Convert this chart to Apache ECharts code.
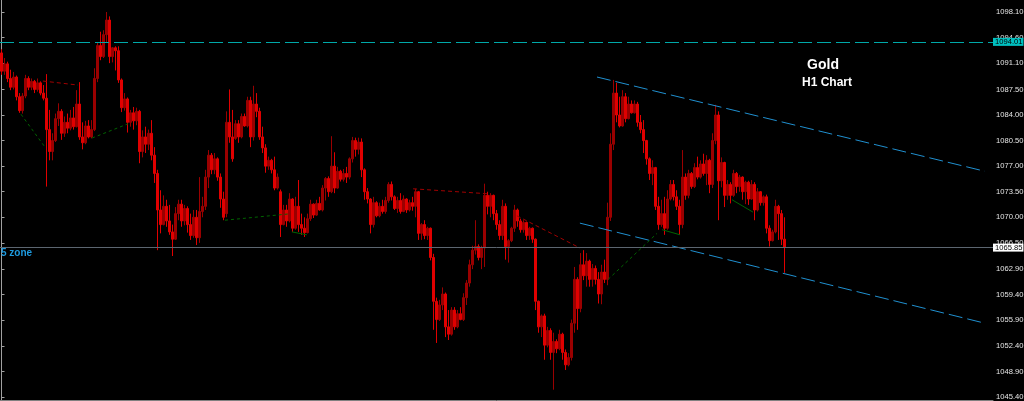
<!DOCTYPE html>
<html><head><meta charset="utf-8">
<script src="https://cdn.jsdelivr.net/npm/echarts@6/dist/echarts.min.js"></script>
<style>html,body{margin:0;padding:0;background:#000;}#c{width:1024px;height:401px;}</style>
</head><body><div id="c"></div>
<script>
// ---- data ----
const slotCount = 331; // hourly slots including empty right shift area
const categories = Array.from({length: slotCount}, (_, i) => 'H' + (i + 1));
// [open, close, low, high]
const candles = [
[1092.5,1090.0,1089.5,1093.0],[1090.0,1091.0,1089.5,1091.8],[1091.0,1089.0,1088.5,1091.3],[1089.0,1087.8,1087.4,1090.2],
[1087.8,1089.2,1087.5,1089.9],[1089.2,1086.5,1086.0,1089.4],[1086.5,1084.6,1084.3,1087.0],[1084.6,1086.6,1084.2,1087.0],
[1086.6,1089.0,1086.3,1089.5],[1089.0,1087.8,1087.4,1089.3],[1087.8,1088.6,1087.4,1089.0],[1088.6,1087.5,1087.0,1088.8],
[1087.5,1088.4,1087.2,1089.0],[1088.4,1087.0,1086.7,1088.6],[1087.0,1086.3,1086.0,1088.1],[1086.3,1082.0,1074.2,1089.6],
[1082.0,1079.0,1077.8,1084.7],[1079.0,1080.5,1077.8,1081.5],[1080.5,1083.5,1080.3,1084.2],[1083.5,1084.5,1082.5,1085.6],
[1084.5,1081.5,1080.6,1084.8],[1081.5,1083.0,1081.0,1083.8],[1083.0,1082.2,1081.5,1084.2],[1082.2,1083.6,1081.9,1084.7],
[1083.6,1082.4,1082.0,1085.1],[1082.4,1085.5,1082.3,1087.4],[1085.5,1081.0,1080.6,1088.5],[1081.0,1080.2,1079.3,1083.0],
[1080.2,1082.5,1080.0,1083.2],[1082.5,1081.0,1080.8,1083.3],[1081.0,1082.0,1080.8,1083.3],[1082.0,1089.0,1081.8,1090.4],
[1089.0,1093.5,1088.5,1094.0],[1093.5,1092.0,1091.5,1095.4],[1092.0,1095.0,1091.8,1095.6],[1095.0,1097.0,1094.0,1098.1],
[1097.0,1092.0,1091.1,1097.5],[1092.0,1093.2,1091.2,1093.3],[1093.2,1092.8,1090.1,1093.4],[1092.8,1088.8,1088.4,1093.4],
[1088.8,1085.0,1084.4,1089.0],[1085.0,1086.2,1084.6,1087.0],[1086.2,1083.0,1081.6,1086.4],[1083.0,1084.3,1082.4,1084.7],
[1084.3,1083.2,1082.0,1085.1],[1083.2,1084.5,1082.6,1085.0],[1084.5,1079.0,1077.4,1084.7],[1079.0,1081.0,1078.2,1081.9],
[1081.0,1080.0,1078.8,1082.4],[1080.0,1081.5,1079.2,1082.0],[1081.5,1078.5,1077.8,1083.3],[1078.5,1076.0,1074.7,1079.6],
[1076.0,1071.0,1065.5,1076.5],[1071.0,1069.0,1067.8,1073.7],[1069.0,1071.5,1068.9,1073.0],[1071.5,1069.5,1068.7,1072.4],
[1069.5,1068.0,1067.6,1071.7],[1068.0,1067.0,1064.7,1069.0],[1067.0,1070.5,1066.9,1071.4],[1070.5,1071.8,1069.6,1072.4],
[1071.8,1069.5,1068.7,1072.4],[1069.5,1071.2,1068.9,1071.7],[1071.2,1069.0,1067.9,1071.5],[1069.0,1067.5,1066.9,1070.5],
[1067.5,1070.0,1067.2,1071.0],[1070.0,1067.2,1066.2,1071.0],[1067.2,1070.8,1066.5,1075.5],[1070.8,1071.5,1070.0,1072.8],
[1071.5,1075.5,1071.0,1076.5],[1075.5,1078.5,1074.0,1079.2],[1078.5,1076.5,1075.9,1078.8],[1076.5,1078.0,1075.9,1078.8],
[1078.0,1075.5,1075.0,1078.2],[1075.5,1072.5,1071.3,1076.0],[1072.5,1070.0,1069.6,1073.5],[1070.5,1083.0,1070.0,1084.5],
[1083.0,1081.0,1080.2,1087.5],[1081.0,1078.0,1077.6,1084.7],[1080.8,1082.8,1080.6,1083.3],[1082.8,1081.0,1080.2,1083.3],
[1081.0,1083.8,1080.8,1084.2],[1083.8,1082.5,1082.4,1084.2],[1082.5,1086.0,1082.3,1086.5],[1086.0,1081.0,1079.6,1086.5],
[1081.0,1085.5,1080.5,1088.0],[1085.5,1084.5,1083.7,1087.0],[1084.5,1081.0,1080.6,1085.0],[1081.0,1079.5,1078.8,1082.4],
[1079.5,1077.0,1076.1,1080.0],[1077.0,1077.8,1076.5,1078.3],[1077.8,1076.5,1076.0,1078.0],[1076.5,1074.0,1073.7,1078.3],
[1074.0,1075.5,1073.8,1076.0],[1073.5,1069.0,1067.3,1073.8],[1069.0,1071.0,1068.9,1071.7],[1071.0,1069.5,1068.7,1071.7],
[1069.5,1072.5,1069.3,1073.3],[1072.5,1068.5,1068.0,1072.6],[1068.5,1071.5,1068.3,1072.8],[1071.5,1069.0,1068.0,1075.1],
[1069.0,1068.5,1067.6,1070.5],[1068.5,1067.9,1067.3,1070.0],[1067.9,1069.8,1067.8,1070.5],[1069.8,1071.8,1069.5,1072.4],
[1071.8,1070.3,1069.9,1071.9],[1070.3,1071.9,1070.2,1072.4],[1071.9,1071.0,1070.9,1072.8],[1071.0,1074.0,1070.8,1074.4],
[1074.0,1075.3,1072.3,1075.5],[1075.3,1073.5,1072.8,1075.6],[1073.5,1077.0,1073.3,1081.1],[1077.0,1074.0,1073.3,1078.9],
[1074.0,1076.3,1073.9,1076.9],[1076.3,1075.2,1074.9,1076.5],[1075.2,1076.0,1074.9,1076.6],[1076.0,1075.5,1074.7,1076.9],
[1075.5,1078.0,1075.2,1078.2],[1078.0,1080.5,1077.5,1081.0],[1080.5,1079.3,1078.3,1080.9],[1079.3,1080.3,1078.6,1080.9],
[1080.3,1076.5,1075.5,1080.8],[1076.5,1073.5,1072.4,1076.7],[1073.5,1072.5,1071.9,1074.0],[1072.5,1069.0,1067.8,1072.6],
[1069.0,1072.0,1068.6,1072.8],[1072.0,1070.2,1070.0,1072.2],[1070.2,1071.5,1070.0,1072.0],[1071.5,1070.8,1070.5,1072.4],
[1070.8,1072.3,1070.5,1072.8],[1072.3,1074.5,1072.0,1074.8],[1074.5,1072.8,1072.3,1074.9],[1072.8,1071.2,1071.0,1073.0],
[1071.2,1072.3,1070.6,1072.8],[1072.3,1070.8,1070.5,1073.3],[1070.8,1072.5,1070.7,1073.0],[1072.5,1071.0,1070.6,1072.6],
[1071.0,1072.0,1070.8,1072.4],[1072.0,1071.5,1070.9,1072.8],[1071.5,1073.5,1070.0,1073.9],[1073.5,1067.8,1066.9,1073.6],
[1067.8,1069.0,1066.9,1069.2],[1069.0,1067.5,1067.0,1069.6],[1067.5,1068.5,1066.9,1068.7],[1068.5,1064.5,1064.1,1068.6],
[1064.5,1058.5,1054.6,1065.0],[1058.5,1056.0,1052.8,1059.0],[1056.0,1058.0,1055.8,1058.7],[1058.0,1059.5,1057.3,1060.4],
[1059.5,1055.0,1053.6,1059.7],[1055.0,1054.0,1053.2,1057.3],[1054.0,1057.3,1053.8,1057.7],[1057.3,1055.0,1054.6,1057.7],
[1055.0,1056.8,1054.8,1057.3],[1056.8,1056.0,1055.9,1057.7],[1056.0,1059.0,1055.8,1059.6],[1059.0,1061.0,1058.0,1061.4],
[1061.0,1063.5,1060.5,1064.2],[1063.5,1065.5,1062.9,1066.1],[1065.5,1066.0,1064.9,1069.6],[1066.0,1064.5,1064.1,1066.3],
[1064.5,1065.8,1062.9,1066.1],[1065.8,1073.0,1063.2,1074.6],[1073.0,1071.5,1070.4,1073.5],[1071.5,1073.0,1070.0,1073.3],
[1073.0,1070.5,1069.6,1073.1],[1070.5,1069.0,1068.3,1071.0],[1069.0,1067.5,1066.9,1069.6],[1067.5,1071.5,1066.9,1072.4],
[1071.5,1066.0,1064.2,1071.9],[1066.0,1066.8,1063.8,1067.0],[1066.8,1068.5,1066.6,1068.7],[1068.5,1071.0,1068.0,1071.7],
[1071.0,1069.5,1068.7,1071.2],[1069.5,1068.3,1067.9,1069.8],[1068.3,1069.3,1067.9,1069.6],[1069.3,1067.5,1066.9,1069.4],
[1067.5,1068.5,1066.9,1068.7],[1068.5,1067.0,1066.5,1068.6],[1067.0,1058.5,1057.3,1067.1],[1058.5,1055.0,1054.2,1058.6],
[1055.0,1056.5,1053.6,1056.7],[1056.5,1052.5,1050.5,1056.8],[1052.5,1054.5,1052.2,1055.0],[1054.5,1051.5,1050.5,1054.8],
[1051.5,1053.0,1046.4,1054.2],[1053.0,1052.0,1051.4,1053.3],[1052.0,1054.0,1051.8,1054.6],[1054.0,1051.5,1050.5,1054.2],
[1051.5,1049.8,1049.1,1051.9],[1049.8,1050.8,1049.6,1051.4],[1050.8,1055.5,1050.4,1056.0],[1055.5,1061.5,1054.2,1063.2],
[1061.5,1057.5,1054.6,1061.8],[1057.5,1063.5,1057.0,1065.1],[1063.5,1062.0,1061.4,1065.5],[1062.0,1064.0,1060.5,1065.1],
[1064.0,1061.5,1060.5,1064.2],[1061.5,1063.0,1060.5,1063.6],[1063.0,1061.5,1060.8,1063.4],[1061.5,1059.5,1058.2,1062.5],
[1059.5,1062.5,1058.1,1063.5],[1062.5,1061.5,1061.0,1064.2],[1061.5,1070.0,1060.7,1072.0],[1070.0,1080.0,1069.5,1081.5],
[1080.0,1087.0,1079.2,1088.8],[1087.0,1084.0,1083.0,1088.4],[1084.0,1082.5,1082.3,1086.5],[1082.5,1086.5,1082.4,1087.4],
[1086.5,1083.5,1083.0,1087.0],[1083.5,1085.5,1083.4,1086.5],[1085.5,1084.3,1084.2,1086.0],[1084.3,1085.5,1084.2,1086.0],
[1085.5,1083.0,1082.4,1085.8],[1083.0,1082.0,1081.5,1084.0],[1082.0,1080.5,1078.8,1083.3],[1080.5,1078.0,1077.2,1080.6],
[1078.0,1076.0,1075.1,1078.2],[1076.0,1076.8,1074.4,1077.8],[1076.8,1071.5,1071.0,1076.9],[1071.5,1069.0,1068.3,1072.8],
[1069.0,1070.5,1068.7,1072.4],[1070.5,1068.5,1067.6,1072.8],[1068.5,1072.5,1068.3,1073.7],[1072.5,1074.5,1072.3,1075.1],
[1074.5,1072.8,1072.3,1075.1],[1072.8,1071.5,1071.0,1073.7],[1071.5,1069.0,1067.6,1072.4],[1069.0,1075.5,1068.5,1079.2],
[1075.5,1073.0,1072.4,1076.0],[1073.0,1076.0,1072.6,1076.5],[1076.0,1074.2,1073.9,1076.2],[1074.2,1076.8,1074.0,1077.4],
[1076.8,1075.5,1075.2,1078.3],[1075.5,1077.3,1075.3,1077.8],[1077.3,1076.0,1075.7,1078.7],[1076.0,1077.8,1074.4,1078.5],
[1077.8,1074.5,1073.3,1078.0],[1074.5,1080.5,1074.0,1081.5],[1080.5,1084.0,1080.0,1085.4],[1084.0,1075.0,1069.6,1084.5],
[1075.0,1077.5,1074.1,1078.2],[1077.5,1073.0,1071.4,1077.6],[1073.0,1074.5,1072.4,1075.1],[1074.5,1073.0,1071.9,1074.8],
[1073.0,1076.0,1072.8,1076.5],[1076.0,1074.2,1073.3,1076.2],[1074.2,1075.5,1073.5,1075.8],[1075.5,1073.5,1072.4,1075.6],
[1073.5,1074.8,1071.8,1075.0],[1074.8,1072.5,1071.7,1075.0],[1072.5,1074.5,1072.4,1075.1],[1074.5,1071.0,1069.6,1074.8],
[1071.0,1073.5,1070.8,1074.0],[1073.5,1072.0,1071.6,1073.6],[1072.0,1072.8,1071.6,1073.0],[1072.8,1068.5,1067.8,1073.1],
[1068.5,1066.8,1066.0,1068.9],[1066.8,1068.0,1066.7,1068.3],[1068.0,1071.5,1067.8,1072.4],[1071.5,1070.5,1066.9,1071.7],
[1070.5,1067.0,1066.2,1071.0],[1067.0,1065.9,1062.4,1070.0]
];
const yTicks = [1045.40,1048.90,1052.40,1055.90,1059.40,1062.90,1066.50,1070.00,1073.50,1077.00,1080.50,1084.00,1087.50,1091.10,1094.60,1098.10];
const resistanceLevel = 1094.01;
const zoneLevel = 1065.85;
// drawn objects, endpoints as [bar index, price]
const channelUpper = [[198.5,1089.2],[327.8,1076.3]];
const channelLower = [[192.8,1069.2],[327.8,1055.5]];
const redDotted = [
  [[13.8,1088.65],[25.5,1088.1]],
  [[137.2,1073.9],[162.8,1073.2]],
  [[171.8,1070.2],[192.8,1065.8]]
];
const greenDotted = [
  [[6.5,1084.1],[14.5,1079.6]],
  [[30.2,1080.85],[42.2,1082.8]],
  [[74.5,1069.6],[95.5,1070.45]],
  [[202.2,1061.5],[218.5,1067.8]]
];
const greenSolid = [
  [[96.8,1068.0],[101.8,1067.6]],
  [[220.2,1068.3],[226.2,1067.6]],
  [[243.5,1072.4],[250.5,1070.7]]
];

// ---- chart ----
const axisFont = "'Liberation Sans', Arial, sans-serif";
const chart = echarts.init(document.getElementById('c'), null, {renderer: 'canvas'});
const seg = (d, color, type, width) => ({
  type: 'line', xAxisIndex: 1, yAxisIndex: 0, data: d, symbol: 'none', silent: true,
  lineStyle: {color: color, type: type, width: width || 1}, z: 3, animation: false
});
const series = [
  {
    type: 'candlestick', data: candles, barWidth: 2, xAxisIndex: 0, yAxisIndex: 0,
    itemStyle: {color: '#9a0000', color0: '#e00000', borderColor: '#9a0000', borderColor0: '#e00000', borderWidth: 1},
    markLine: {
      symbol: ['none', 'none'], silent: true, animation: false,
      data: [
        {yAxis: resistanceLevel, lineStyle: {color: '#00a8a8', type: [14, 5], width: 1},
         label: {show: true, position: 'end', distance: 0, formatter: resistanceLevel.toFixed(2), backgroundColor: '#00c0c0', color: '#000', padding: [0, 1, 0, 2], fontSize: 7.6, fontFamily: axisFont}},
        {yAxis: zoneLevel, lineStyle: {color: '#5c6670', type: 'solid', width: 1},
         label: {show: true, position: 'end', distance: 0, formatter: zoneLevel.toFixed(2), backgroundColor: '#ffffff', color: '#000', padding: [0, 1, 0, 2], fontSize: 7.6, fontFamily: axisFont}}
      ]
    },
    animation: false
  },
  seg(channelUpper, '#2090d0', [14, 5]),
  seg(channelLower, '#2090d0', [14, 5])
];
redDotted.forEach(d => series.push(seg(d, '#a00000', [4, 3])));
greenDotted.forEach(d => series.push(seg(d, '#006400', [3, 3])));
greenSolid.forEach(d => series.push(seg(d, '#006400', 'solid')));

chart.setOption({
  backgroundColor: '#000000',
  animation: false,
  grid: {left: 0, right: 31, top: 0, bottom: 1, containLabel: false, outerBoundsMode: 'none'},
  xAxis: [
    {type: 'category', data: categories, boundaryGap: true,
     axisLine: {show: true, lineStyle: {color: '#808080'}}, axisTick: {show: false}, axisLabel: {show: false}, splitLine: {show: false}},
    {type: 'value', min: -0.5, max: slotCount - 0.5, show: false}
  ],
  yAxis: {
    type: 'value', position: 'right', min: 1044.989, max: 1099.743, scale: true,
    axisLine: {show: true, lineStyle: {color: '#a0a0a0'}},
    axisTick: {show: true, length: 3, lineStyle: {color: '#a0a0a0'}, customValues: yTicks},
    axisLabel: {show: true, color: '#e6e6e6', fontSize: 7.6, margin: 3, customValues: yTicks,
      fontFamily: axisFont, formatter: v => Number(v).toFixed(2)},
    splitLine: {show: false}
  },
  graphic: [
    {type: 'text', z: 10, style: {x: 823, y: 65, text: 'Gold', fill: '#ffffff', font: 'bold 14px "Liberation Sans", Arial, sans-serif', textAlign: 'center', textVerticalAlign: 'middle'}},
    {type: 'text', z: 10, style: {x: 827, y: 83, text: 'H1 Chart', fill: '#ffffff', font: 'bold 12px "Liberation Sans", Arial, sans-serif', textAlign: 'center', textVerticalAlign: 'middle'}},
    {type: 'text', z: 10, style: {x: 1, y: 253, text: '5 zone', fill: '#1e9be0', font: 'bold 10px "Liberation Sans", Arial, sans-serif', textAlign: 'left', textVerticalAlign: 'middle'}}
  ],
  series: series
});
</script></body></html>
